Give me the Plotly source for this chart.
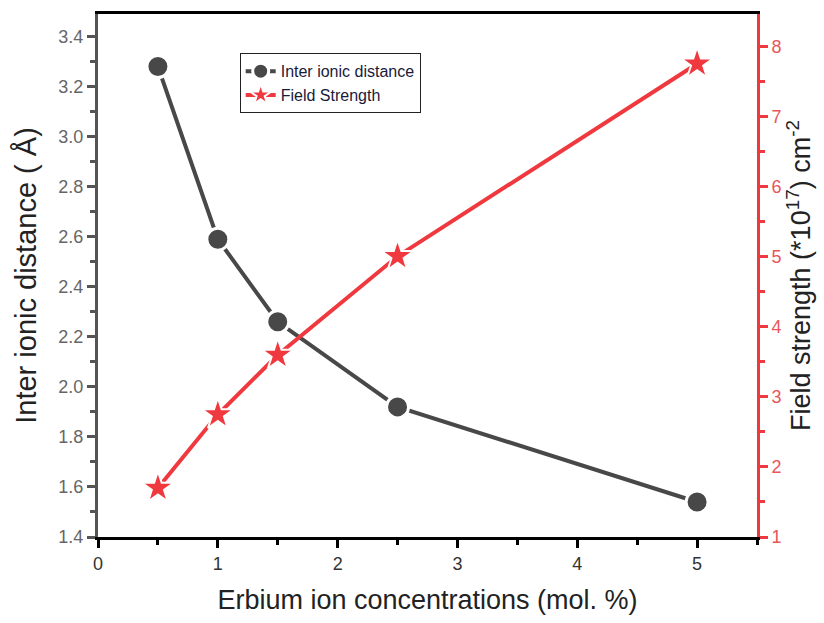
import plotly.graph_objects as go

# Erbium ion concentration (mol. %)
concentration = [0.5, 1.0, 1.5, 2.5, 5.0]
# Inter ionic distance (Å)
inter_ionic_distance = [3.28, 2.59, 2.26, 1.92, 1.54]
# Field strength (x10^17 cm^-2)
field_strength = [1.70, 2.75, 3.60, 5.01, 7.76]

GRAY = "#484848"
RED = "#f0393f"
FONT = "Liberation Sans, Arial, sans-serif"

fig = go.Figure()

fig.add_trace(go.Scatter(
    x=concentration, y=inter_ionic_distance,
    name="Inter ionic distance",
    mode="lines+markers",
    line=dict(color=GRAY, width=4),
    marker=dict(symbol="circle", size=22, color=GRAY,
                line=dict(color="white", width=3)),
    yaxis="y",
))

fig.add_trace(go.Scatter(
    x=concentration, y=field_strength,
    name="Field Strength",
    mode="lines+markers",
    line=dict(color=RED, width=4),
    marker=dict(symbol="star", size=24, color=RED,
                line=dict(color="white", width=2)),
    yaxis="y2",
))

fig.update_layout(
    width=824, height=623,
    margin=dict(l=98, r=67, t=14, b=86),
    paper_bgcolor="white", plot_bgcolor="white",
    font=dict(family=FONT, color="#222222"),
    showlegend=True,
    legend=dict(
        x=0.215, y=0.925, xanchor="left", yanchor="top",
        bgcolor="white", bordercolor="#222222", borderwidth=1,
        font=dict(size=16, color="#1a1a3a", family=FONT),
        itemwidth=30, tracegroupgap=0,
    ),
    xaxis=dict(
        range=[0, 5.5], tickvals=[0, 1, 2, 3, 4, 5],
        showgrid=False, zeroline=False,
        showline=True, linecolor="black", linewidth=3, mirror=True,
        ticks="outside", ticklen=8, tickwidth=3, tickcolor="black",
        minor=dict(dtick=0.5, ticks="outside", ticklen=5, tickwidth=3,
                   tickcolor="black"),
        tickfont=dict(size=18, color="#333333"),
        title=dict(text="Erbium ion concentrations (mol. %)",
                   font=dict(size=27, color="#222222"), standoff=18),
    ),
    yaxis=dict(
        range=[1.4, 3.49], dtick=0.2, tick0=1.4, tickformat=".1f",
        showgrid=False, zeroline=False,
        showline=True, linecolor="#555555", linewidth=3,
        ticks="outside", ticklen=8, tickwidth=3, tickcolor="#555555",
        minor=dict(dtick=0.1, ticks="outside", ticklen=5, tickwidth=3,
                   tickcolor="#555555"),
        tickfont=dict(size=18, color="#666666"),
        title=dict(text="Inter ionic distance ( Å)",
                   font=dict(size=29, color="#222222"), standoff=14),
    ),
    yaxis2=dict(
        overlaying="y", side="right",
        range=[1, 8.47], dtick=1, tick0=1,
        showgrid=False, zeroline=False,
        showline=True, linecolor=RED, linewidth=3,
        ticks="outside", ticklen=8, tickwidth=3, tickcolor=RED,
        minor=dict(dtick=0.5, ticks="outside", ticklen=5, tickwidth=3,
                   tickcolor=RED),
        tickfont=dict(size=18, color="#e8555a"),
        title=dict(text="Field strength (*10<sup>17</sup>) cm<sup>-2</sup>",
                   font=dict(size=27, color="#222222"), standoff=10),
    ),
)

fig.write_html("out.html")
